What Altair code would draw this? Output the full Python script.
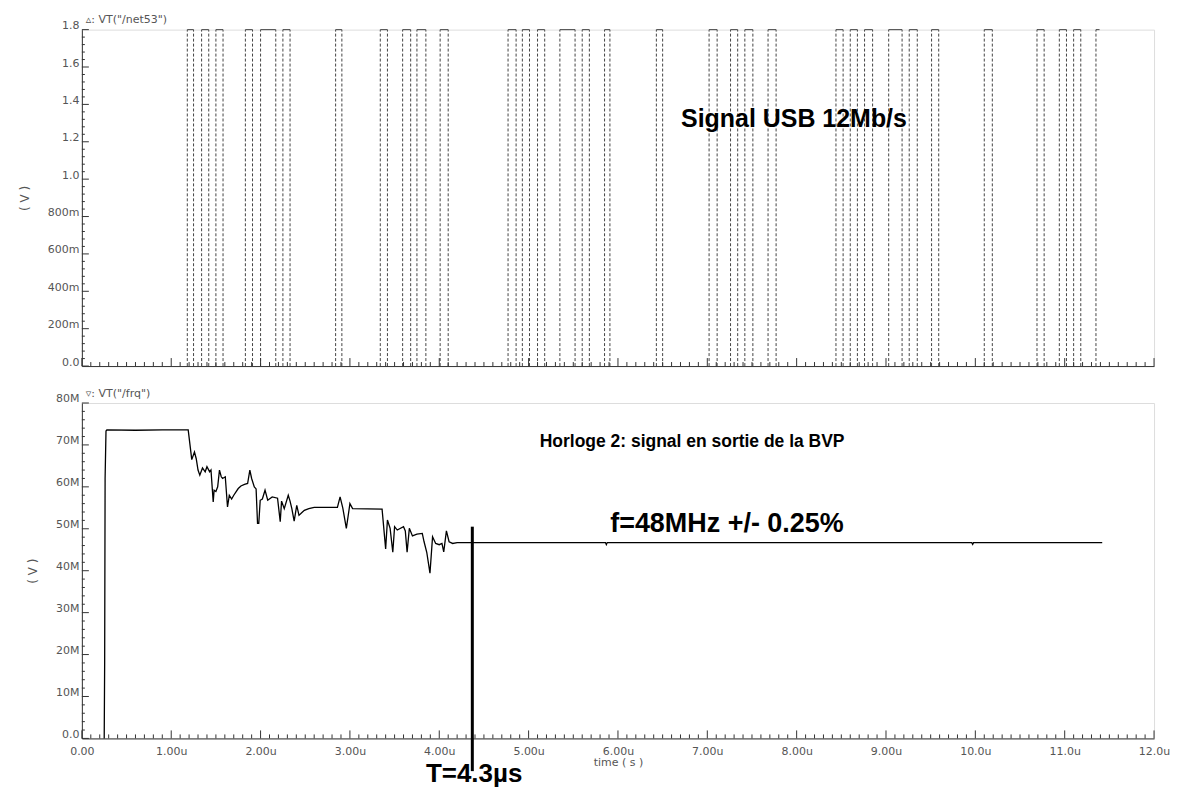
import altair as alt
import pandas as pd

# ---------------- data ----------------
# Top panel: USB data signal (µs). Rising / falling edges and high-level segments.
rise_t = [1.18, 1.34, 1.50, 1.83, 2.00, 2.25, 2.84, 3.34, 3.59, 3.75, 4.01, 4.77, 4.93,
          5.10, 5.35, 5.60, 5.85, 6.43, 7.02, 7.26, 7.42, 7.68, 8.44, 8.60, 8.76, 9.03,
          9.26, 9.51, 10.10, 10.69, 10.94, 11.10, 11.35]
fall_t = [1.25, 1.42, 1.58, 1.91, 2.17, 2.33, 2.91, 3.42, 3.68, 3.85, 4.10, 4.86, 5.01,
          5.18, 5.52, 5.68, 5.91, 6.50, 7.11, 7.34, 7.51, 7.77, 8.52, 8.68, 8.85, 9.18,
          9.35, 9.59, 10.19, 10.77, 11.02, 11.18]
high_end = fall_t + [11.39]
v_high = 1.8

# Bottom panel: recovered clock frequency (MHz) vs time (µs)
freq_t = [0.25, 0.255, 0.26, 0.27, 0.28, 0.60, 0.90, 1.19,
          1.23, 1.26, 1.28, 1.30, 1.32, 1.35, 1.38, 1.40, 1.43, 1.445, 1.47, 1.48, 1.50,
          1.52, 1.54, 1.56, 1.575, 1.605, 1.63, 1.65, 1.676, 1.70, 1.725, 1.75, 1.78, 1.82,
          1.855, 1.88, 1.90, 1.93, 1.95, 1.966, 1.98, 1.996, 2.02, 2.05, 2.08, 2.13, 2.19,
          2.22, 2.235, 2.265, 2.31, 2.33, 2.35, 2.376, 2.405, 2.43, 2.46, 2.49, 2.54, 2.60,
          2.86, 2.89, 2.92, 2.96, 2.98, 3.00, 3.03, 3.36, 3.40, 3.42, 3.45, 3.48, 3.50,
          3.53, 3.60, 3.62, 3.64, 3.665, 3.70, 3.75, 3.81, 3.83, 3.86, 3.896, 3.925, 3.96,
          4.00, 4.03, 4.05, 4.08, 4.11, 4.15, 4.20,
          5.86, 5.87, 5.88, 9.96, 9.97, 9.98, 11.42]
freq_f = [0.0, 18.0, 62.0, 73.3, 73.6, 73.5, 73.6, 73.6,
          66.5, 68.3, 66.7, 64.0, 62.8, 64.5, 63.6, 64.8, 63.6, 64.0, 56.4, 59.2, 58.9,
          60.0, 64.0, 62.4, 62.0, 62.4, 55.2, 58.0, 57.1, 58.0, 58.8, 59.6, 60.2, 60.6,
          60.8, 64.0, 62.0, 60.0, 59.5, 51.3, 51.3, 56.8, 57.1, 59.2, 56.8, 57.6, 57.3,
          51.7, 56.6, 54.8, 58.0, 56.6, 54.8, 51.8, 55.6, 53.2, 53.8, 54.4, 54.8, 55.1,
          55.1, 57.6, 55.0, 50.1, 53.0, 56.0, 54.8, 54.7, 45.2, 52.1, 50.1, 44.4, 50.5,
          49.7, 50.5, 49.5, 44.4, 50.1, 48.3, 48.7, 48.9, 46.9, 44.4, 39.4, 48.1, 46.5,
          46.2, 46.5, 44.5, 49.5, 46.9, 46.5, 46.7,
          46.7, 46.2, 46.7, 46.7, 46.3, 46.7, 46.7]

# Settling marker
marker_t = [4.37]
marker_top = [50.5]
marker_bottom = [-7.8]

# Annotations
top_text = ["Signal USB 12Mb/s"]
top_text_t = [7.97]
top_text_v = [1.32]
bot_text = ["Horloge 2: signal en sortie de la BVP", "f=48MHz +/- 0.25%", "T=4.3µs"]
bot_text_t = [6.83, 7.22, 4.39]
bot_text_f = [70.7, 51.2, -8.4]
bot_text_size = [17.5, 27, 26]

# Trace names shown above each panel
top_name = ['▵: VT("/net53")']
top_name_v = [1.853]
bot_name = ['▿: VT("/frq")']
bot_name_f = [82.2]

# Axis tick values
x_major = list(range(0, 13))
x_minor = [i / 10 for i in range(0, 121) if i % 10 != 0]
v_major = [0.0, 0.2, 0.4, 0.6, 0.8, 1.0, 1.2, 1.4, 1.6, 1.8]
v_minor = [i / 100 for i in range(0, 181, 4) if i % 20 != 0]
f_major = [0, 10, 20, 30, 40, 50, 60, 70, 80]
f_minor = [i for i in range(0, 81, 2) if i % 10 != 0]

# ---------------- chart ----------------
W = 1074
H1 = 337
H2 = 336
INK = "#333333"
LAB = "#555555"
AFONT = "DejaVu Sans"
TFONT = "Liberation Sans"

xscale = alt.Scale(domain=[0, 12], nice=False, zero=False)
x_lab_expr = ("datum.value == 0 ? '0.00' : (datum.value < 10 ? format(datum.value, '.2f') "
              ": format(datum.value, '.1f')) + 'u'")


def x_axis(labels, title):
    return alt.Axis(values=x_major, ticks=False, domain=True, domainColor=INK, grid=False,
                    labels=labels, labelExpr=x_lab_expr, labelFont=AFONT, labelFontSize=11,
                    labelColor=LAB, labelPadding=7, labelFlush=False, labelOverlap=False,
                    title=title, titleFont=AFONT, titleFontSize=11, titleColor=LAB,
                    titleFontWeight="normal", titlePadding=0)


def y_axis(values, expr):
    return alt.Axis(values=values, ticks=False, domain=True, domainColor=INK, grid=False,
                    labelExpr=expr, labelFont=AFONT, labelFontSize=11, labelColor=LAB,
                    labelPadding=3, labelOffset=-4, labelFlush=False, labelOverlap=False,
                    title="( V )", titleFont=AFONT, titleFontSize=12, titleColor=LAB,
                    titleFontWeight="normal", titlePadding=16)


def tick_layers(vals_major, vals_minor, axis_ch, scale, axis, height):
    layers = []
    for vals, ln in ((vals_major, 8), (vals_minor, 4)):
        d = pd.DataFrame({"p": vals})
        if axis_ch == "x":
            layers.append(alt.Chart(d).mark_rule(color=INK, strokeWidth=1).encode(
                x=alt.X("p:Q", scale=scale, axis=axis),
                y=alt.value(height), y2=alt.value(height - ln)))
        else:
            layers.append(alt.Chart(d).mark_rule(color=INK, strokeWidth=1).encode(
                y=alt.Y("p:Q", scale=scale, axis=axis),
                x=alt.value(0), x2=alt.value(ln - 1)))
    return layers


def name_layer(text, yval, scale, xaxis, yaxis):
    d = pd.DataFrame({"s": text, "t": [0.0], "y": yval})
    return alt.Chart(d).mark_text(font=AFONT, fontSize=11, color=LAB, align="left",
                                  baseline="middle", dx=4).encode(
        x=alt.X("t:Q", scale=xscale, axis=xaxis),
        y=alt.Y("y:Q", scale=scale, axis=yaxis), text="s:N")


# ---- top panel ----
vscale = alt.Scale(domain=[0, 1.8], nice=False, zero=False)
v_expr = ("datum.value > 0.01 && datum.value < 0.99 ? format(datum.value * 1000, 'd') + 'm' "
          ": format(datum.value, '.1f')")
top_xaxis = x_axis(False, None)
top_yaxis = y_axis(v_major, v_expr)

edges = pd.DataFrame({"t": rise_t + fall_t, "v0": 0.0, "v1": v_high})
highs = pd.DataFrame({"t": rise_t, "t2": high_end, "v": [v_high] * len(rise_t)})

top_base = alt.Chart(highs).mark_rule(color="#444444", strokeWidth=1).encode(
    x=alt.X("t:Q", scale=xscale, axis=top_xaxis),
    x2="t2:Q",
    y=alt.Y("v:Q", scale=vscale, axis=top_yaxis),
)
top_edges = alt.Chart(edges).mark_rule(color="#444444", strokeWidth=1, strokeDash=[3, 2]).encode(
    x=alt.X("t:Q", scale=xscale, axis=top_xaxis),
    y=alt.Y("v0:Q", scale=vscale, axis=top_yaxis),
    y2="v1:Q",
)
top_txt = alt.Chart(pd.DataFrame({"s": top_text, "t": top_text_t, "v": top_text_v})).mark_text(
    font=TFONT, fontWeight="bold", fontSize=25, color="black", align="center", baseline="middle"
).encode(x=alt.X("t:Q", scale=xscale, axis=top_xaxis),
         y=alt.Y("v:Q", scale=vscale, axis=top_yaxis), text="s:N")

top = alt.layer(
    top_base, top_edges, top_txt,
    name_layer(top_name, top_name_v, vscale, top_xaxis, top_yaxis),
    *tick_layers(x_major, x_minor, "x", xscale, top_xaxis, H1),
    *tick_layers(v_major, v_minor, "y", vscale, top_yaxis, H1),
).properties(width=W, height=H1)

# ---- bottom panel ----
fscale = alt.Scale(domain=[0, 80], nice=False, zero=False)
f_expr = "datum.value == 0 ? '0.0' : format(datum.value, 'd') + 'M'"
bot_xaxis = x_axis(True, "time ( s )")
bot_yaxis = y_axis(f_major, f_expr)
fr = pd.DataFrame({"t": freq_t, "f": freq_f})

bot_line = alt.Chart(fr).mark_line(color="black", strokeWidth=1.3).encode(
    x=alt.X("t:Q", scale=xscale, axis=bot_xaxis),
    y=alt.Y("f:Q", scale=fscale, axis=bot_yaxis),
    order="t:Q",
)
bot_marker = alt.Chart(pd.DataFrame({"t": marker_t, "a": marker_top, "b": marker_bottom})).mark_rule(
    color="black", strokeWidth=3).encode(
    x=alt.X("t:Q", scale=xscale, axis=bot_xaxis),
    y=alt.Y("a:Q", scale=fscale, axis=bot_yaxis), y2="b:Q")
bot_txt = alt.Chart(pd.DataFrame({"s": bot_text, "t": bot_text_t, "f": bot_text_f,
                                  "z": bot_text_size})).mark_text(
    font=TFONT, fontWeight="bold", color="black", align="center", baseline="middle"
).encode(x=alt.X("t:Q", scale=xscale, axis=bot_xaxis),
         y=alt.Y("f:Q", scale=fscale, axis=bot_yaxis), text="s:N",
         size=alt.Size("z:Q", scale=None, legend=None))

bottom = alt.layer(
    bot_line, bot_marker, bot_txt,
    name_layer(bot_name, bot_name_f, fscale, bot_xaxis, bot_yaxis),
    *tick_layers(x_major, x_minor, "x", xscale, bot_xaxis, H2),
    *tick_layers(f_major, f_minor, "y", fscale, bot_yaxis, H2),
).properties(width=W, height=H2)

chart = alt.vconcat(top, bottom, spacing=19).properties(
    padding={"left": 9, "top": 4, "right": 5, "bottom": 0}
).configure_view(stroke=None).configure(background="white")

chart.save("out.html", embed_options={"renderer": "svg", "actions": False})
